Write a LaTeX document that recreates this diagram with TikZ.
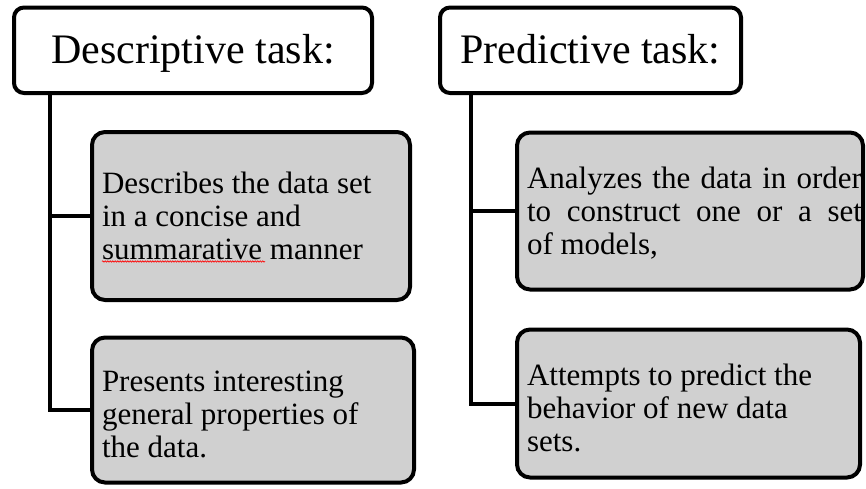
\documentclass[tikz,border=0pt]{standalone}
\usepackage{fontspec}
\setmainfont{Liberation Serif}
\usetikzlibrary{decorations.pathmorphing}
\definecolor{boxgray}{RGB}{208,208,208}
\tikzset{
  titlebox/.style={draw=black, line width=4pt, rounded corners=10pt, fill=white,
    inner sep=0pt, outer sep=0pt, font=\fontsize{42}{48}\selectfont,
    text height=30.5pt, text depth=5pt},
  graybox/.style={draw=black, line width=4pt, rounded corners=13pt, fill=boxgray,
    inner sep=0pt, outer sep=0pt},
  bodytext/.style={anchor=base west, inner sep=0pt, outer sep=0pt,
    font=\fontsize{31}{33}\selectfont},
  connector/.style={draw=black, line width=4pt},
  spellmark/.style={draw=red, line width=0.6pt,
    decorate, decoration={snake, amplitude=0.7pt, segment length=2.5pt}}
}
\begin{document}
\begin{tikzpicture}[x=1pt,y=-1pt]
\useasboundingbox (0,0) rectangle (866,488);
% title boxes
\node[titlebox, minimum width=358pt, minimum height=85.5pt] (t1) at (193,50.25) {Descriptive task:};
\node[titlebox, minimum width=301pt, minimum height=85.5pt] (t2) at (590.5,50.25) {Predictive task:};
% gray boxes
\node[graybox, minimum width=318pt, minimum height=168pt] (d1) at (251,216) {};
\node[graybox, minimum width=322pt, minimum height=145pt] (d2) at (253,410) {};
\node[graybox, minimum width=346pt, minimum height=157pt] (p1) at (690,211) {};
\node[graybox, minimum width=343pt, minimum height=148pt] (p2) at (688.5,403.5) {};
% connector start points
\coordinate (c1) at ([xshift=36pt]t1.south west);
\coordinate (c2) at ([xshift=31pt]t2.south west);
% connectors
\draw[connector] (c1) |- (d2.west);
\draw[connector] (d1.west) -| (c1);
\draw[connector] (c2) |- (p2.west);
\draw[connector] (p1.west) -| (c2);
% texts
\node[bodytext] (d1txt) at (102,193) {\parbox[t]{300pt}{\raggedright Describes the data set\\ in a concise and\\ summarative manner}};
\node[bodytext] (d2txt) at (102,391) {\parbox[t]{300pt}{\raggedright Presents interesting\\ general properties of\\ the data.}};
\node[bodytext] (p1txt) at (527,188) {\parbox[t]{335pt}{\hbadness=10000 Analyzes the data in order\linebreak to construct one or a set\linebreak of models,}};
\node[bodytext] (p2txt) at (527,385) {\parbox[t]{320pt}{\raggedright Attempts to predict the\\ behavior of new data\\ sets.}};
% spell-check mark
\coordinate (s1) at (102,261.5);
\coordinate (s2) at (265,261.5);
\draw[spellmark] (s1) -- (s2);
\end{tikzpicture}
\end{document}
